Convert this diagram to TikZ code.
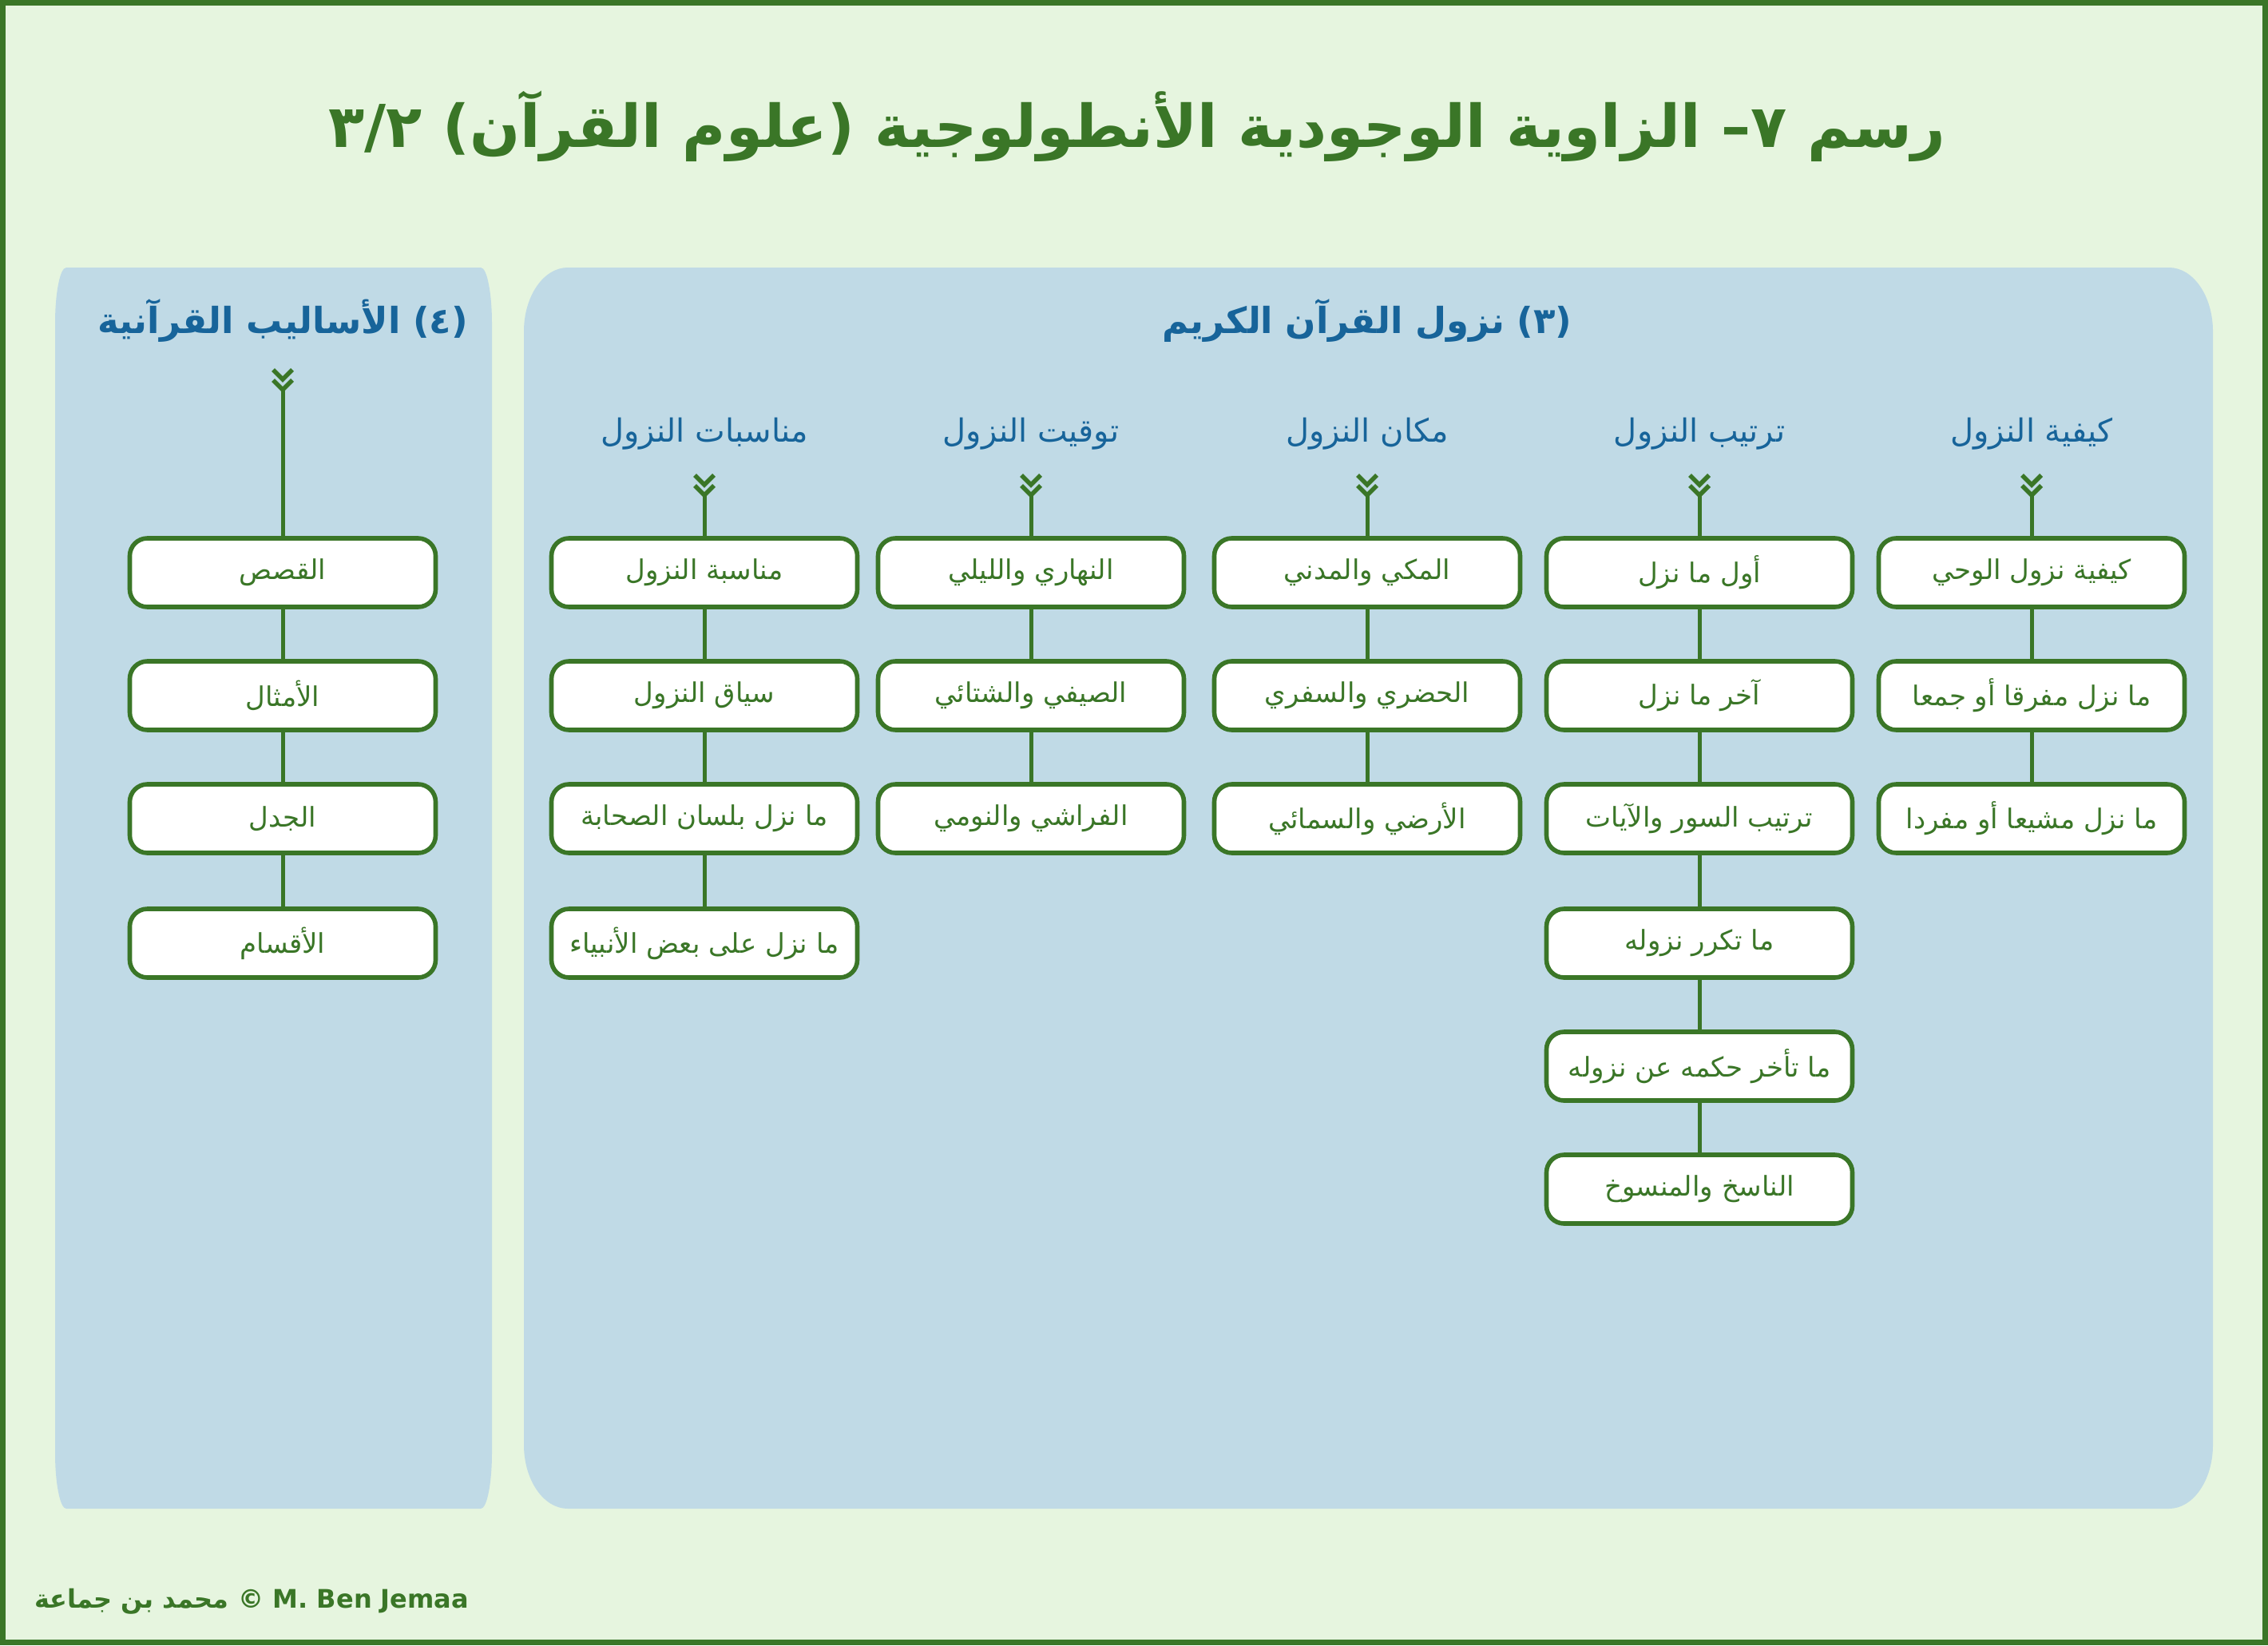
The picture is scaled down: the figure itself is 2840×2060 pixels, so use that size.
\documentclass[tikz,border=0pt]{standalone}
\usepackage{fontspec}
\usetikzlibrary{arrows.meta}
\TeXXeTstate=1
\newfontfamily\arabicfont[Script=Arabic]{DejaVu Sans}
\newfontfamily\latinfont{DejaVu Sans}
\definecolor{bg}{HTML}{E6F5DF}
\definecolor{grn}{HTML}{3A7627}
\definecolor{pnl}{HTML}{C0DAE6}
\definecolor{hdr}{HTML}{17649A}
\newcommand{\artxt}[1]{{\arabicfont\beginR #1\endR}}
\tikzset{
  panel/.style={fill=pnl, draw=none},
  itembox/.style={draw=grn, line width=2.8pt, fill=white, rounded corners=11pt,
    minimum width=191.5pt, minimum height=43pt, inner sep=0pt, text=grn,
    font=\fontsize{17}{20}\selectfont},
  subhead/.style={text=hdr, font=\fontsize{20}{24}\selectfont},
  mainhead/.style={text=hdr, font=\bfseries\fontsize{22.5}{28}\selectfont},
  conn/.style={draw=grn, line width=2.5pt},
  chevs/.pic={\draw[draw=grn, line width=2.8pt, line join=miter]
     (-12,0) -- (0,12) -- (12,0) (-12,13) -- (0,25) -- (12,13);},
}
\begin{document}
\begin{tikzpicture}[x=0.5pt,y=-0.5pt]
\useasboundingbox (0,0) rectangle (2840,2060);
\draw[line width=3.5pt, draw=grn, fill=bg] (3.5,3.5) rectangle (2836.5,2056.5);
% title
\node[text=grn, font=\bfseries\fontsize{37}{44}\selectfont] (title) at (1424,158)
  {\artxt{رسم ٧– الزاوية الوجودية الأنطولوجية (علوم القرآن) ٣/٢}};
% panels (tall elliptical corners; y axis points down)
\fill[panel] (69,405) arc[start angle=180, end angle=270, x radius=14, y radius=70]
  -- (602,335) arc[start angle=270, end angle=360, x radius=14, y radius=70]
  -- (616,1819) arc[start angle=0, end angle=90, x radius=14, y radius=70]
  -- (83,1889) arc[start angle=90, end angle=180, x radius=14, y radius=70] -- cycle;
\fill[panel] (656,415) arc[start angle=180, end angle=270, x radius=55, y radius=80]
  -- (2716,335) arc[start angle=270, end angle=360, x radius=55, y radius=80]
  -- (2771,1809) arc[start angle=0, end angle=90, x radius=55, y radius=80]
  -- (711,1889) arc[start angle=90, end angle=180, x radius=55, y radius=80] -- cycle;
% headers
\node[mainhead] (hL) at (354,402) {\artxt{(٤) الأساليب القرآنية}};
\node[mainhead] (hM) at (1712,402) {\artxt{(٣) نزول القرآن الكريم}};
\node[subhead] (s1) at (2544,543) {\artxt{كيفية النزول}};
\node[subhead] (s2) at (2128,543) {\artxt{ترتيب النزول}};
\node[subhead] (s3) at (1712,543) {\artxt{مكان النزول}};
\node[subhead] (s4) at (1291,543) {\artxt{توقيت النزول}};
\node[subhead] (s5) at (882,543) {\artxt{مناسبات النزول}};
% column 1
\node[itembox] (a1) at (2544,717) {\artxt{كيفية نزول الوحي}};
\node[itembox] (a2) at (2544,871) {\artxt{ما نزل مفرقا أو جمعا}};
\node[itembox] (a3) at (2544,1025) {\artxt{ما نزل مشيعا أو مفردا}};
% column 2
\node[itembox] (b1) at (2128,717) {\artxt{أول ما نزل}};
\node[itembox] (b2) at (2128,871) {\artxt{آخر ما نزل}};
\node[itembox] (b3) at (2128,1025) {\artxt{ترتيب السور والآيات}};
\node[itembox] (b4) at (2128,1181) {\artxt{ما تكرر نزوله}};
\node[itembox] (b5) at (2128,1335) {\artxt{ما تأخر حكمه عن نزوله}};
\node[itembox] (b6) at (2128,1489) {\artxt{الناسخ والمنسوخ}};
% column 3
\node[itembox] (c1) at (1712,717) {\artxt{المكي والمدني}};
\node[itembox] (c2) at (1712,871) {\artxt{الحضري والسفري}};
\node[itembox] (c3) at (1712,1025) {\artxt{الأرضي والسمائي}};
% column 4
\node[itembox] (d1) at (1291,717) {\artxt{النهاري والليلي}};
\node[itembox] (d2) at (1291,871) {\artxt{الصيفي والشتائي}};
\node[itembox] (d3) at (1291,1025) {\artxt{الفراشي والنومي}};
% column 5
\node[itembox] (e1) at (882,717) {\artxt{مناسبة النزول}};
\node[itembox] (e2) at (882,871) {\artxt{سياق النزول}};
\node[itembox] (e3) at (882,1025) {\artxt{ما نزل بلسان الصحابة}};
\node[itembox] (e4) at (882,1181) {\artxt{ما نزل على بعض الأنبياء}};
% left column
\node[itembox] (f1) at (354,717) {\artxt{القصص}};
\node[itembox] (f2) at (354,871) {\artxt{الأمثال}};
\node[itembox] (f3) at (354,1025) {\artxt{الجدل}};
\node[itembox] (f4) at (354,1181) {\artxt{الأقسام}};
% chevrons and their stems
\pic at (2544,595) {chevs}; \coordinate (ca) at (2544,620);
\pic at (2128,595) {chevs}; \coordinate (cb) at (2128,620);
\pic at (1712,595) {chevs}; \coordinate (cc) at (1712,620);
\pic at (1291,595) {chevs}; \coordinate (cd) at (1291,620);
\pic at (882,595) {chevs};  \coordinate (ce) at (882,620);
\pic at (354,463) {chevs};  \coordinate (cf) at (354,488);
\draw[conn] (ca) -- (a1.north);
\draw[conn] (cb) -- (b1.north);
\draw[conn] (cc) -- (c1.north);
\draw[conn] (cd) -- (d1.north);
\draw[conn] (ce) -- (e1.north);
\draw[conn] (cf) -- (f1.north);
% links
\draw[conn] (a1) -- (a2); \draw[conn] (a2) -- (a3);
\draw[conn] (b1) -- (b2); \draw[conn] (b2) -- (b3); \draw[conn] (b3) -- (b4);
\draw[conn] (b4) -- (b5); \draw[conn] (b5) -- (b6);
\draw[conn] (c1) -- (c2); \draw[conn] (c2) -- (c3);
\draw[conn] (d1) -- (d2); \draw[conn] (d2) -- (d3);
\draw[conn] (e1) -- (e2); \draw[conn] (e2) -- (e3); \draw[conn] (e3) -- (e4);
\draw[conn] (f1) -- (f2); \draw[conn] (f2) -- (f3); \draw[conn] (f3) -- (f4);
% footer
\node[anchor=west, text=grn, font=\bfseries\fontsize{16}{20}\selectfont] (foot) at (36,2005)
  {\artxt{محمد بن جماعة} {\latinfont ©~M. Ben Jemaa}};
\end{tikzpicture}
\end{document}
